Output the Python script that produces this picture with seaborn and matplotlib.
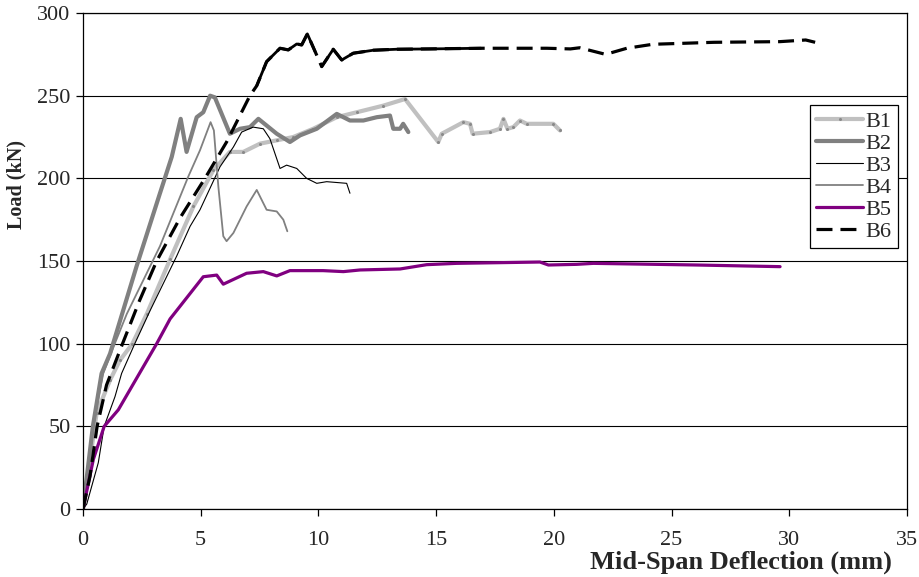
import matplotlib
matplotlib.use("Agg")
import matplotlib.pyplot as plt
import seaborn as sns

# Load vs. mid-span deflection for beams B1-B6
b1_x = [0, 0.58, 1.15, 1.57, 2.1, 2.71, 3.70, 4.69, 5.54, 6.24, 6.81, 7.52, 8.23, 8.93, 9.78,
        10.78, 11.63, 12.76, 13.68, 15.09, 15.24, 16.16, 16.44, 16.55, 17.29, 17.71, 17.86,
        18.03, 18.28, 18.56, 18.85, 19.98, 20.26]
b1_y = [0, 58, 78, 90, 100, 118, 151, 183, 205, 216, 216, 221, 223, 225, 230,
        237, 240, 244, 248, 222, 227, 234, 233, 227, 228, 230, 236,
        230, 231, 235, 233, 233, 229]

b2_x = [0, 0.42, 0.79, 1.15, 2.28, 3.27, 3.77, 4.15, 4.40, 4.83, 5.11, 5.40, 5.60, 6.24,
        6.67, 7.09, 7.45, 8.23, 8.79, 9.22, 9.93, 10.78, 11.34, 11.91, 12.48, 13.04, 13.18,
        13.47, 13.60, 13.82]
b2_y = [0, 50, 82, 94, 147, 191, 213, 236, 216, 237, 240, 250, 249, 227,
        230, 231, 236, 227, 222, 226, 230, 239, 235, 235, 237, 238, 230,
        230, 233, 228]

b3_x = [0, 0.16, 0.65, 0.9, 1.36, 1.64, 2.2, 2.85, 3.98, 4.55, 4.97, 5.82, 6.39, 6.74, 7.23,
        7.66, 7.94, 8.37, 8.65, 9.08, 9.5, 9.93, 10.35, 11.2, 11.34]
b3_y = [0, 3, 28, 50, 68, 82, 100, 120, 153, 171, 181, 207, 219, 228, 231,
        230, 224, 206, 208, 206, 200, 197, 198, 197, 191]

b4_x = [0, 0.42, 0.86, 1.35, 1.86, 3.27, 4.47, 4.97, 5.42, 5.56, 5.75, 5.96, 6.10, 6.39,
        6.95, 7.38, 7.80, 8.23, 8.51, 8.68]
b4_y = [0, 50, 82, 100, 118, 159, 201, 217, 234, 229, 195, 165, 162, 167,
        183, 193, 181, 180, 175, 168]

b5_x = [0, 0.44, 0.9, 1.5, 3.13, 3.70, 5.11, 5.68, 5.96, 6.95, 7.66, 8.23, 8.79, 10.2,
        11.06, 11.77, 13.47, 14.6, 15.87, 19.41, 19.77, 20.97, 21.68, 26.07, 29.61]
b5_y = [0, 30, 50, 60, 100, 115, 140.5, 141.5, 136, 142.6, 143.6, 141, 144.2, 144.2,
        143.6, 144.6, 145.2, 147.8, 148.6, 149.4, 147.6, 148, 148.6, 147.6, 146.6]

b6_x = [0, 0.3, 0.6, 1.0, 1.68, 2.4, 3.13, 4.12, 5.18, 6.1, 7.09, 7.38, 7.80, 8.37, 8.72,
        9.08, 9.29, 9.53, 9.86, 10.14, 10.63, 10.99, 11.48, 12.33, 13.33, 14.74, 16.9,
        19.7, 20.7, 21.1, 22.2, 23.1, 24.2, 26.8, 29.6, 30.7, 31.1]
b6_y = [0, 20, 50, 75, 100, 126, 150, 176, 200, 222, 250, 256, 270.6, 278.7, 277.7,
        281.3, 280.7, 287.4, 276.7, 267.6, 278.1, 271.6, 275.7, 277.5, 278.1, 278.3, 278.7,
        278.7, 278.3, 279, 275, 278.7, 281.1, 282.3, 282.7, 283.7, 282.3]

x_ticks = [0, 5, 10, 15, 20, 25, 30, 35]
y_ticks = [0, 50, 100, 150, 200, 250, 300]

sns.set_style("white")
plt.rcParams["font.family"] = ["Liberation Serif", "DejaVu Serif"]

fig = plt.figure(figsize=(9.19, 5.77), dpi=100)
ax = fig.add_axes([0.0903, 0.1178, 0.8966, 0.8596])

common = dict(ax=ax, sort=False, estimator=None)
sns.lineplot(x=b1_x, y=b1_y, color="#C0C0C0", lw=3.0, label="B1",
             marker="o", markersize=2.2, markeredgewidth=0,
             markerfacecolor="#8a8a8a", **common)
sns.lineplot(x=b2_x, y=b2_y, color="#808080", lw=3.0, label="B2", **common)
sns.lineplot(x=b3_x, y=b3_y, color="black", lw=0.8, label="B3", **common)
sns.lineplot(x=b4_x, y=b4_y, color="#808080", lw=1.3, label="B4", **common)
sns.lineplot(x=b5_x, y=b5_y, color="#800080", lw=2.3, label="B5", **common)
sns.lineplot(x=b6_x, y=b6_y, color="black", lw=2.3, label="B6", **common)
b6_line = ax.get_lines()[-1]
b6_line.set_dashes((5, 2.5))

# densely logged stretches of B6 read as a continuous stroke
for lo, hi in [(11, 19), (19, 27)]:
    sns.lineplot(x=b6_x[lo:hi], y=b6_y[lo:hi], color="black", lw=2.0, **common)

ax.set_xlim(0, 35)
ax.set_ylim(0, 300)
ax.set_xticks(x_ticks)
ax.set_yticks(y_ticks)
ax.grid(axis="y", color="black", lw=0.8)
ax.grid(axis="x", visible=False)
ax.set_axisbelow(True)

for side in ["left", "bottom", "top", "right"]:
    ax.spines[side].set_color("black")
    ax.spines[side].set_linewidth(0.9)

ax.tick_params(axis="both", which="major", bottom=True, left=True, direction="out",
               length=5, width=0.9, color="black", labelsize=16)
ax.tick_params(axis="x", pad=11)
ax.tick_params(axis="y", pad=4)

ax.set_xlabel("Mid-Span Deflection (mm)", fontsize=19, fontweight="bold")
ax.set_ylabel("Load (kN)", fontsize=14.5, fontweight="bold")
ax.xaxis.set_label_coords(0.799, -0.083)
ax.yaxis.set_label_coords(-0.068, 0.655)

handles, labels = ax.get_legend_handles_labels()
keep = [(h, l) for h, l in zip(handles, labels) if l in ("B1", "B2", "B3", "B4", "B5", "B6")]
leg = ax.legend([h for h, _ in keep], [l for _, l in keep],
                loc="upper right", bbox_to_anchor=(0.989, 0.8145), borderaxespad=0,
                fontsize=16, frameon=True, fancybox=False, framealpha=1,
                edgecolor="black", handlelength=2.1, handletextpad=0.1,
                labelspacing=0.06, borderpad=0.3)
leg.get_frame().set_linewidth(0.9)

fig.savefig("out.png", dpi=100)
